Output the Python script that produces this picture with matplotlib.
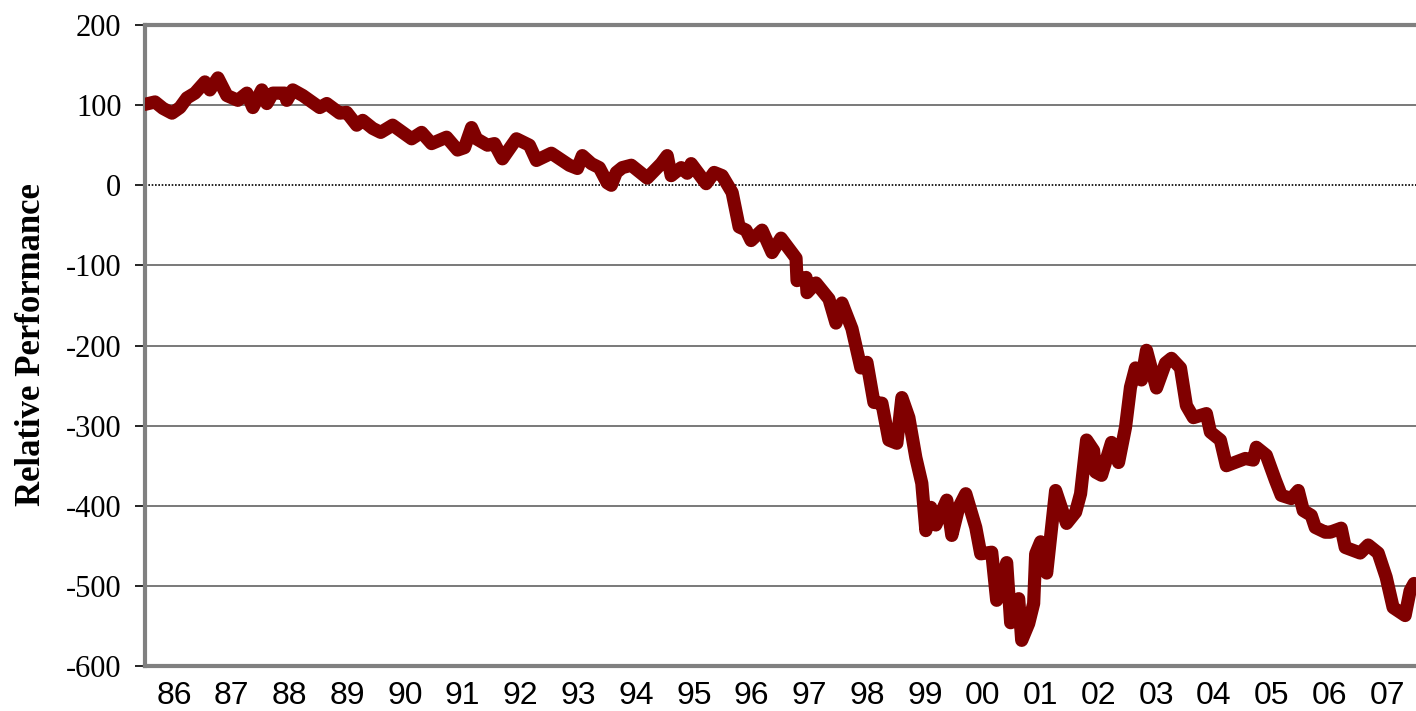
import matplotlib.pyplot as plt

# time axis in years since start of 1986 (category years 86..07)
t = [0.000, 0.173, 0.311, 0.467, 0.605, 0.726, 0.864, 1.037, 1.123, 1.262,
     1.417, 1.607, 1.763, 1.867, 2.022, 2.109, 2.212, 2.420, 2.454, 2.558,
     2.731, 3.025, 3.146, 3.370, 3.491, 3.664, 3.768, 3.941, 4.080, 4.286,
     4.615, 4.787, 4.960, 5.220, 5.410, 5.531, 5.652, 5.738, 5.928, 6.049,
     6.187, 6.429, 6.654, 6.775, 7.034, 7.345, 7.484, 7.570, 7.726, 7.864,
     8.002, 8.071, 8.158, 8.261, 8.417, 8.693, 8.935, 9.039, 9.108, 9.281,
     9.385, 9.454, 9.713, 9.851, 9.990, 10.163, 10.284, 10.404, 10.491, 10.681,
     10.854, 11.009, 11.269, 11.286, 11.442, 11.459, 11.614, 11.839, 11.960, 12.064,
     12.237, 12.392, 12.496, 12.617, 12.755, 12.876, 13.014, 13.101, 13.222, 13.343,
     13.446, 13.516, 13.602, 13.688, 13.878, 13.965, 14.086, 14.207, 14.380, 14.466,
     14.656, 14.742, 14.915, 14.984, 15.123, 15.175, 15.296, 15.382, 15.417, 15.503,
     15.607, 15.762, 15.952, 16.108, 16.194, 16.298, 16.419, 16.454, 16.557, 16.730,
     16.851, 16.972, 17.058, 17.145, 17.248, 17.335, 17.508, 17.664, 17.767, 17.923,
     18.026, 18.147, 18.372, 18.441, 18.614, 18.718, 19.046, 19.184, 19.236, 19.409,
     19.565, 19.668, 19.841, 19.962, 20.049, 20.187, 20.256, 20.429, 20.515, 20.705,
     20.775, 21.034, 21.172, 21.345, 21.483, 21.604, 21.812, 21.898, 21.967]
perf = [101, 104, 96, 90, 97, 109, 115, 129, 119, 134,
        112, 106, 115, 97, 119, 102, 115, 115, 106, 119,
        112, 97, 102, 90, 91, 75, 81, 71, 66, 75,
        58, 66, 52, 60, 44, 47, 72, 58, 50, 52,
        33, 58, 50, 31, 40, 25, 21, 37, 27, 22,
        3, 0, 16, 22, 25, 9, 27, 37, 12, 22,
        15, 27, 2, 16, 12, -9, -52, -56, -69, -56,
        -84, -66, -91, -119, -115, -134, -122, -142, -172, -147,
        -179, -228, -221, -271, -272, -318, -322, -265, -290, -340,
        -372, -431, -402, -424, -393, -437, -402, -385, -427, -460,
        -458, -518, -471, -546, -516, -568, -547, -522, -460, -445,
        -484, -381, -422, -408, -385, -318, -331, -358, -362, -321,
        -346, -302, -252, -228, -243, -206, -253, -222, -216, -228,
        -275, -290, -285, -308, -318, -350, -341, -343, -327, -337,
        -368, -387, -391, -381, -406, -412, -427, -433, -433, -428,
        -452, -459, -449, -459, -489, -527, -537, -506, -497]
years = ['86', '87', '88', '89', '90', '91', '92', '93', '94', '95', '96',
         '97', '98', '99', '00', '01', '02', '03', '04', '05', '06', '07']

fig = plt.figure(figsize=(14.16, 7.11), dpi=100)
ax = fig.add_axes([0.1024, 0.0633, 0.8976, 0.9015])

for v in [100, -100, -200, -300, -400, -500]:
    ax.axhline(v, color='#6e6e6e', lw=1.3, zorder=1)
ax.axhline(0, color='black', lw=1.2, ls=(0, (1, 1)), zorder=1)

ax.plot(t, perf, color='#800000', lw=9.5, solid_joinstyle='round',
        solid_capstyle='round', zorder=3)

ax.set_xlim(0, 22)
ax.set_ylim(-600, 200)
ax.set_yticks(range(-600, 201, 100))
ax.set_yticklabels([str(v) for v in range(-600, 201, 100)],
                   fontfamily='Liberation Serif', fontsize=22)
ax.set_xticks([i + 0.5 for i in range(len(years))])
ax.set_xticklabels(years, fontfamily='Liberation Sans', fontsize=23)
ax.tick_params(axis='x', length=0, pad=11)
ax.tick_params(axis='y', length=7, width=1.2, pad=10, color='black')

for s in ['left', 'bottom', 'top']:
    ax.spines[s].set_color('#808080')
    ax.spines[s].set_linewidth(3)
ax.spines['right'].set_visible(False)

fig.text(0.022, 0.515, 'Relative Performance', rotation=90, ha='center',
         va='center', fontfamily='Liberation Serif', fontweight='bold',
         fontsize=25)

fig.savefig('out.png', dpi=100)
